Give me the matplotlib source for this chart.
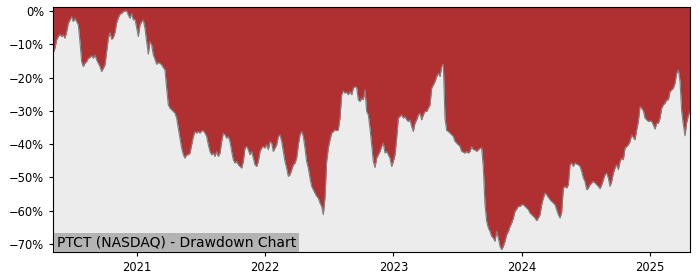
import numpy as np
import pandas as pd
import matplotlib
matplotlib.use("Agg")
import matplotlib.pyplot as plt
import matplotlib.dates as mdates
from matplotlib.ticker import PercentFormatter

# data
chart_label = "PTCT (NASDAQ) - Drawdown Chart"
start_date = "2020-05-07"
end_date = "2025-04-25"

drawdown_pct = [
    # mid 2020 -> early 2021
    -12.5, -11.2, -8.7, -7.7, -7.0, -7.7, -7.2, -8.2, -6.2, -3.7,
    -2.7, -1.7, -3.2, -2.2, -3.2, -4.2, -9.2, -15.2, -16.7, -15.7,
    -15.2, -14.2, -14.0, -13.4, -14.2, -13.2, -14.7, -15.7, -16.7, -18.2,
    -17.2, -16.2, -12.2, -8.2, -6.5, -8.5, -8.0, -6.5, -3.5, -2.0,
    -1.0, -0.7, -0.2, 0.0, 0.0, -1.2, -2.2, -0.8, -2.7, -2.5,
    -5.0, -7.7, -4.2, -3.2, -2.7, -5.2, -9.2, -13.0, -9.2, -10.2,
    -13.2,
    # 2021
    -14.5, -16.0, -15.5, -15.7, -16.2, -17.0, -17.7, -23.2, -28.2, -29.2,
    -29.7, -30.2, -30.7, -32.2, -35.2, -38.2, -41.2, -43.2, -44.2, -43.2,
    -43.2, -42.7, -40.2, -37.7, -36.2, -36.7, -36.2, -36.7, -36.0, -36.0,
    -36.7, -37.7, -40.2, -42.2, -43.2, -42.7, -43.7, -42.2, -43.7, -42.7,
    -39.2, -36.7, -37.2, -38.2, -37.7, -39.2, -42.2, -44.7, -45.7, -45.2,
    -46.2, -46.7, -47.2, -45.2, -41.2, -40.7, -41.7, -43.2, -42.2, -44.2,
    -46.2, -46.7, -45.2,
    # 2022
    -42.2, -41.2, -40.7, -41.2, -40.2, -41.7, -39.2, -39.7, -42.2, -41.2,
    -40.2, -37.7, -37.2, -39.2, -42.2, -45.2, -47.2, -49.7, -49.2, -47.7,
    -46.2, -45.7, -44.2, -40.2, -37.2, -36.2, -37.7, -41.2, -45.2, -47.2,
    -50.2, -52.7, -53.7, -54.7, -55.7, -56.2, -57.7, -58.7, -61.2, -56.0,
    -45.2, -41.2, -38.7, -36.7, -36.2, -35.7, -36.0, -35.7, -32.2, -25.2,
    -24.0, -24.7, -24.4, -25.2, -24.2, -25.2, -23.2, -22.7, -23.0, -26.7,
    -27.2, -26.2, -26.7,
    # late 2022 -> 2023
    -23.7, -30.2, -31.2, -35.2, -40.2, -45.2, -47.0, -44.2, -43.2, -42.2,
    -40.7, -39.7, -42.7, -42.2, -43.2, -44.2, -46.7, -45.2, -43.2, -38.2,
    -32.2, -31.7, -31.2, -32.2, -31.7, -32.7, -33.2, -32.7, -34.7, -36.2,
    -33.7, -32.7, -31.2, -30.7, -32.7, -31.2, -30.2, -30.2, -29.2, -28.2,
    -23.2, -22.2, -21.2, -19.7, -18.7, -19.7, -16.7, -16.0, -32.2, -35.9,
    -36.2, -36.7, -37.2, -37.7, -39.2, -39.7, -40.2, -40.7, -42.2, -42.4,
    -42.7, -42.2, -42.7,
    # late 2023 -> 2024
    -42.2, -40.7, -41.7, -41.7, -42.2, -41.7, -41.2, -41.2, -47.0, -58.2,
    -63.2, -65.2, -66.2, -67.7, -68.2, -69.2, -66.2, -68.2, -70.7, -71.7,
    -70.7, -69.2, -67.2, -66.2, -64.7, -63.7, -62.2, -60.2, -59.5, -58.7,
    -58.7, -58.2, -58.2, -58.7, -59.2, -59.7, -60.7, -61.2, -61.7, -62.2,
    -63.0, -62.2, -61.2, -58.2, -56.2, -54.7, -55.2, -56.0, -56.7, -57.2,
    -57.7, -58.2, -59.7, -61.2, -62.2, -60.5, -53.2, -52.7, -53.2, -52.2,
    -46.2, -45.7, -46.7,
    # mid 2024 -> 2025
    -45.7, -46.0, -46.2, -46.7, -48.2, -50.2, -51.2, -53.7, -53.2, -52.2,
    -51.7, -51.2, -51.7, -52.2, -52.7, -53.4, -52.2, -50.7, -49.2, -48.7,
    -50.2, -52.7, -51.2, -48.7, -47.2, -46.2, -47.7, -45.2, -44.2, -44.7,
    -41.2, -40.7, -40.2, -39.2, -37.2, -38.0, -38.7, -35.7, -33.2, -28.7,
    -29.2, -30.0, -32.2, -32.7, -33.2, -33.0, -33.2, -34.2, -35.5, -33.7,
    -33.7, -32.2, -29.2, -28.2, -27.7, -26.7, -26.7, -24.2, -23.7, -23.2,
    -21.7, -18.7, -17.7, -21.0, -30.2, -34.2, -37.5, -33.5, -31.5, -30.2,
]

y_ticks = [0, -10, -20, -30, -40, -50, -60, -70]

dates = pd.date_range(start_date, end_date, periods=len(drawdown_pct))
dd = np.array(drawdown_pct)

fig = plt.figure(figsize=(7, 2.8), dpi=100)
ax = fig.add_axes([0.0761, 0.099, 0.9096, 0.875])
ax.set_facecolor("#ececec")

ax.fill_between(dates, dd, 5, color="#b03032", linewidth=0)
ax.plot(dates, dd, color="#808080", linewidth=0.8)

ax.set_xlim(dates[0], dates[-1])
ax.set_ylim(-72.5, 1.1)
ax.set_yticks(y_ticks)
ax.yaxis.set_major_formatter(PercentFormatter(decimals=0))
ax.xaxis.set_major_locator(mdates.YearLocator())
ax.xaxis.set_major_formatter(mdates.DateFormatter("%Y"))
ax.tick_params(labelsize=8.3, length=3)

ax.text(0.0053, 0.0115, chart_label, transform=ax.transAxes, fontsize=10,
        ha="left", va="bottom",
        bbox=dict(boxstyle="square,pad=0.2", facecolor="#b3b3b3", edgecolor="none"))

fig.savefig("out.png", dpi=100)
